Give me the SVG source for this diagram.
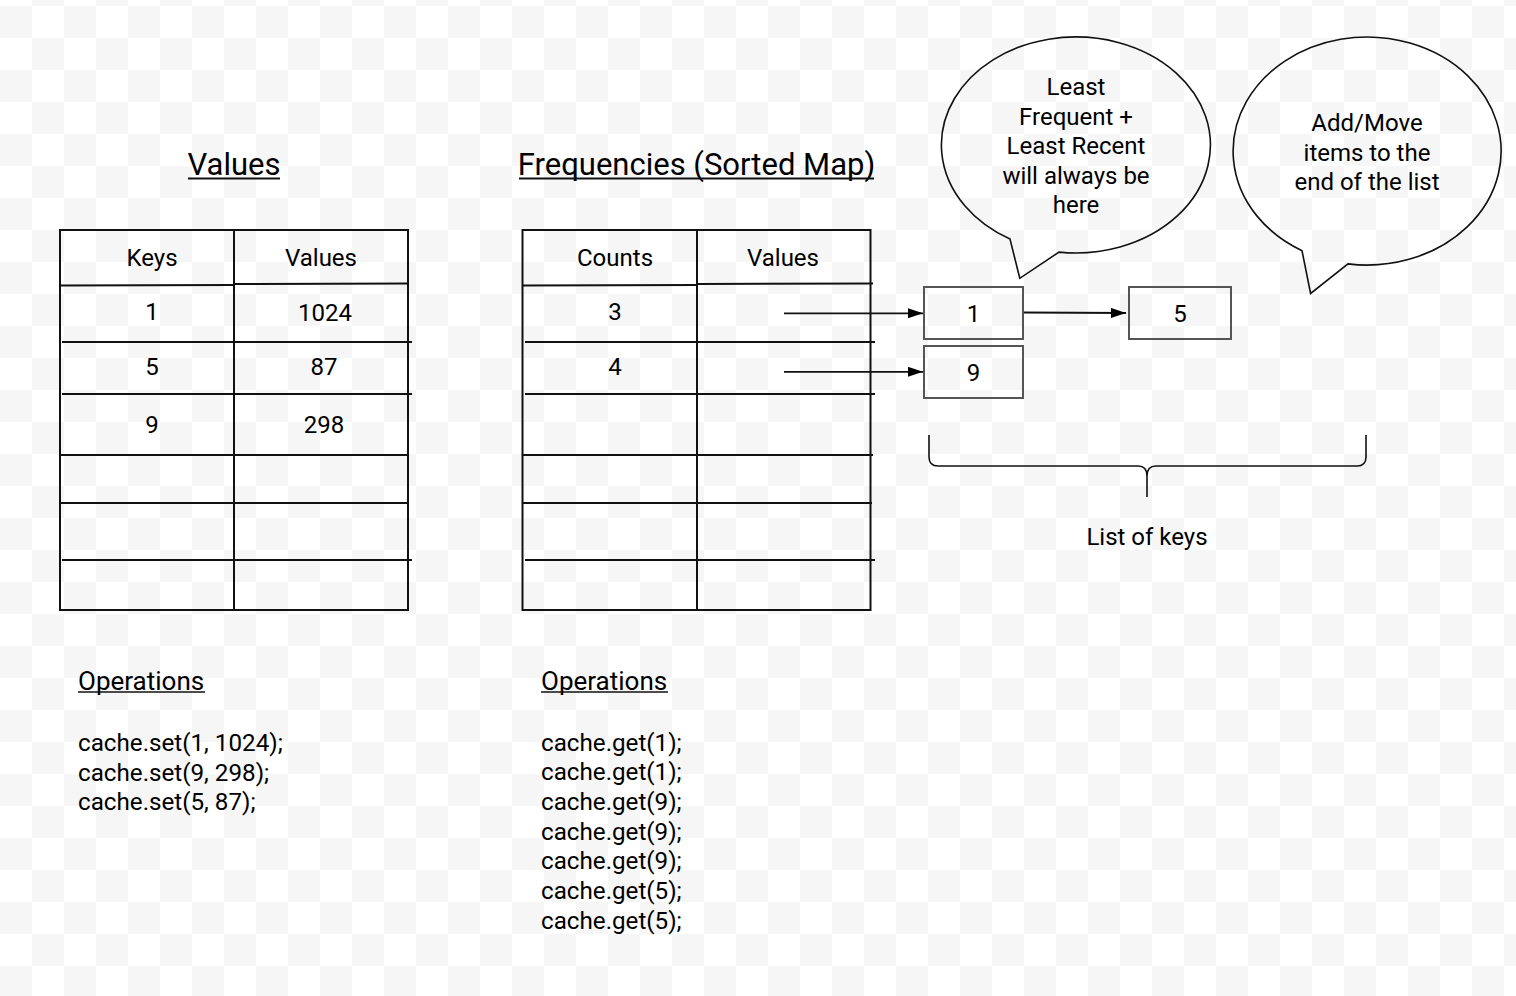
<svg xmlns="http://www.w3.org/2000/svg" width="1516" height="996" viewBox="0 0 1516 996">
<defs>
<pattern id="checker" patternUnits="userSpaceOnUse" x="0" y="6" width="64" height="64">
<rect x="0" y="0" width="64" height="64" fill="#ffffff"/>
<rect x="0" y="0" width="32" height="32" fill="#f6f6f6"/>
<rect x="32" y="32" width="32" height="32" fill="#f6f6f6"/>
</pattern>
<marker id="arrow" markerUnits="userSpaceOnUse" markerWidth="16" markerHeight="11" refX="15" refY="5" orient="auto">
<path d="M0,0 L15,5 L0,10 Z" fill="#000"/>
</marker>
<style>
text{font-family:Roboto,"Liberation Sans",sans-serif;fill:#000}
.title{font-size:31px;text-anchor:middle}
.cell{font-size:24px;text-anchor:middle}
.ops{font-size:24.2px}
.oph{font-size:26px}
.bub{font-size:24px;text-anchor:middle}
.tl{stroke:#111;stroke-width:2;fill:none}
.ul{stroke:#111;stroke-width:2}
.box{fill:none;stroke:#555;stroke-width:2}
.conn{stroke:#111;stroke-width:1.8;fill:none;marker-end:url(#arrow)}
.shape{fill:none;stroke:#111;stroke-width:1.6}
</style>
</defs>
<rect x="0" y="0" width="1516" height="996" fill="url(#checker)"/>

<g id="title-values">
<text class="title" x="234" y="175">Values</text>
<line class="ul" x1="188" y1="178.5" x2="280" y2="178.5"/>
</g>
<g id="title-frequencies">
<text class="title" x="696.5" y="175">Frequencies (Sorted Map)</text>
<line class="ul" x1="519" y1="178.5" x2="874" y2="178.5"/>
</g>

<g id="table-values">
<rect class="tl" x="60" y="230" width="348" height="380"/>
<line class="tl" x1="234" y1="230" x2="234" y2="610"/>
<line class="tl" x1="60" y1="285.6" x2="234" y2="285"/>
<line class="tl" x1="234" y1="284" x2="409" y2="283.4"/>
<line class="tl" x1="62" y1="342" x2="412" y2="342"/>
<line class="tl" x1="62" y1="394" x2="412" y2="394"/>
<line class="tl" x1="60" y1="455" x2="409" y2="455"/>
<line class="tl" x1="60" y1="503" x2="409" y2="503"/>
<line class="tl" x1="62" y1="560" x2="412" y2="560"/>
<text class="cell" x="152" y="266">Keys</text>
<text class="cell" x="321" y="266">Values</text>
<text class="cell" x="152" y="319.5">1</text>
<text class="cell" x="325" y="321">1024</text>
<text class="cell" x="152" y="374.5">5</text>
<text class="cell" x="324" y="374.5">87</text>
<text class="cell" x="152" y="432.5">9</text>
<text class="cell" x="324" y="432.5">298</text>
</g>

<g id="table-frequencies">
<rect class="tl" x="522.5" y="230" width="348" height="380"/>
<line class="tl" x1="697" y1="230" x2="697" y2="610"/>
<line class="tl" x1="522" y1="285.6" x2="697" y2="285"/>
<line class="tl" x1="697" y1="284" x2="873" y2="283.4"/>
<line class="tl" x1="525" y1="342" x2="875" y2="342"/>
<line class="tl" x1="525" y1="394" x2="875" y2="394"/>
<line class="tl" x1="522" y1="455" x2="873" y2="455"/>
<line class="tl" x1="522" y1="503" x2="872" y2="503"/>
<line class="tl" x1="525" y1="560" x2="875" y2="560"/>
<text class="cell" x="615" y="266">Counts</text>
<text class="cell" x="783" y="266">Values</text>
<text class="cell" x="615" y="319.5">3</text>
<text class="cell" x="615" y="374.5">4</text>
</g>

<g id="node-1">
<rect class="box" x="924" y="287" width="99" height="52"/>
<text class="cell" x="973.5" y="321.5">1</text>
</g>
<g id="node-9">
<rect class="box" x="924" y="346" width="99" height="52"/>
<text class="cell" x="973.5" y="380.5">9</text>
</g>
<g id="node-5">
<rect class="box" x="1129" y="287" width="102" height="52"/>
<text class="cell" x="1180" y="321.5">5</text>
</g>

<g id="connectors">
<line class="conn" x1="784" y1="313.3" x2="923" y2="313.3"/>
<line class="conn" x1="784" y1="371.8" x2="923" y2="371.8"/>
<line class="conn" x1="1024" y1="312.5" x2="1126" y2="313"/>
</g>

<g id="bubble-least">
<path class="shape" d="M1059 252.1 A134.5 108 0 1 0 1010 239.1 L1019.8 278.3 Z"/>
<text class="bub" x="1076" y="94.5">Least</text>
<text class="bub" x="1076" y="124.5">Frequent +</text>
<text class="bub" x="1076" y="153.5">Least Recent</text>
<text class="bub" x="1076" y="183.5">will always be</text>
<text class="bub" x="1076" y="213">here</text>
</g>

<g id="bubble-add">
<path class="shape" d="M1348 263.9 A134 114 0 1 0 1302 250.7 L1310.6 293.5 Z"/>
<text class="bub" x="1367" y="131">Add/Move</text>
<text class="bub" x="1367" y="160.5">items to the</text>
<text class="bub" x="1367" y="190">end of the list</text>
</g>

<g id="brace-list">
<path class="shape" d="M929 435 L929 457 Q929 466 938 466 L1138 466 Q1147 466 1147 476 L1147 497 M1147 476 Q1147 466 1156 466 L1357 466 Q1366 466 1366 457 L1366 435"/>
<text class="cell" x="1147" y="545">List of keys</text>
</g>

<g id="ops-values">
<text class="oph" x="78" y="689.5">Operations</text>
<line class="ul" x1="78" y1="692" x2="205" y2="692" style="stroke-width:1.6"/>
<text class="ops" x="78" y="750.5">cache.set(1, 1024);</text>
<text class="ops" x="78" y="780.5">cache.set(9, 298);</text>
<text class="ops" x="78" y="810">cache.set(5, 87);</text>
</g>

<g id="ops-frequencies">
<text class="oph" x="541" y="689.5">Operations</text>
<line class="ul" x1="541" y1="692" x2="668" y2="692" style="stroke-width:1.6"/>
<text class="ops" x="541" y="750.5">cache.get(1);</text>
<text class="ops" x="541" y="780.3">cache.get(1);</text>
<text class="ops" x="541" y="810">cache.get(9);</text>
<text class="ops" x="541" y="839.7">cache.get(9);</text>
<text class="ops" x="541" y="869.4">cache.get(9);</text>
<text class="ops" x="541" y="899.1">cache.get(5);</text>
<text class="ops" x="541" y="928.8">cache.get(5);</text>
</g>
</svg>
